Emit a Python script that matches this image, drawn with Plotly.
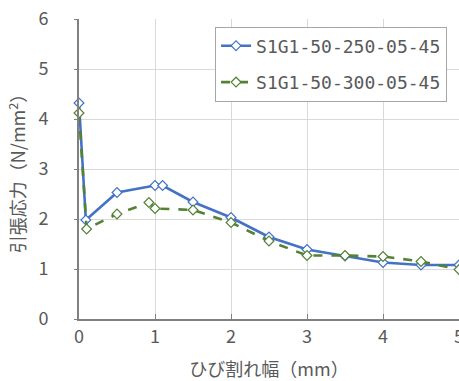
import plotly.graph_objects as go

x_250 = [0, 0.09, 0.5, 1.0, 1.1, 1.5, 2.0, 2.5, 3.0, 3.5, 4.0, 4.5, 5.0]
y_250 = [4.32, 1.98, 2.53, 2.67, 2.67, 2.34, 2.03, 1.64, 1.39, 1.26, 1.13, 1.08, 1.08]
x_300 = [0, 0.1, 0.5, 0.92, 1.0, 1.5, 2.0, 2.5, 3.0, 3.5, 4.0, 4.5, 5.0]
y_300 = [4.12, 1.80, 2.10, 2.33, 2.21, 2.18, 1.93, 1.56, 1.27, 1.27, 1.25, 1.15, 0.99]
names = ["S1G1-50-250-05-45", "S1G1-50-300-05-45"]

FONT = "Noto Sans CJK JP"
GRAY = "#595959"

fig = go.Figure()
fig.add_trace(go.Scatter(
    x=x_250, y=y_250, name=names[0], mode="lines+markers", legendgroup="a",
    line=dict(color="#4472C4", width=2.6),
    marker=dict(symbol="diamond", size=7.5, color="white",
                line=dict(color="#4472C4", width=1.2)),
    cliponaxis=False))
fig.add_trace(go.Scatter(
    x=x_300, y=y_300, name=names[1], mode="lines+markers", legendgroup="b",
    line=dict(color="#548235", width=2.6, dash="dash"),
    marker=dict(symbol="diamond", size=7.5, color="white",
                line=dict(color="#548235", width=1.2)),
    cliponaxis=False))

fig.update_layout(
    width=459, height=381,
    margin=dict(l=79, r=0, t=19, b=62),
    paper_bgcolor="white", plot_bgcolor="white",
    font=dict(family=FONT, size=18, color=GRAY),
    showlegend=True,
    legend=dict(x=0.358, y=0.975, xanchor="left", yanchor="top",
                bgcolor="white", bordercolor="#A6A6A6", borderwidth=1,
                font=dict(family="DejaVu Sans Mono", size=18, color=GRAY),
                tracegroupgap=10, itemwidth=30),
    xaxis=dict(range=[0, 5], dtick=1, showgrid=True, gridcolor="#D9D9D9",
               showline=True, linecolor="#808080", linewidth=2,
               ticks="inside", ticklen=5, tickcolor="#808080",
               zeroline=False, ticklabeloverflow="allow", automargin=False,
               title=dict(text="ひび割れ幅（mm）", standoff=20,
                          font=dict(family=FONT, size=18, color=GRAY)),
               tickfont=dict(family=FONT, size=18, color=GRAY)),
    yaxis=dict(range=[0, 6], dtick=1, showgrid=True, gridcolor="#D9D9D9",
               showline=True, linecolor="#808080", linewidth=2,
               ticks="outside", ticklen=3, tickcolor="#808080",
               zeroline=False, ticklabelstandoff=22, automargin=False,
               title=dict(text="引張応力（N/mm<sup>2</sup>）", standoff=8,
                          font=dict(family=FONT, size=18, color=GRAY)),
               tickfont=dict(family=FONT, size=18, color=GRAY)),
)

fig.write_html("out.html")
